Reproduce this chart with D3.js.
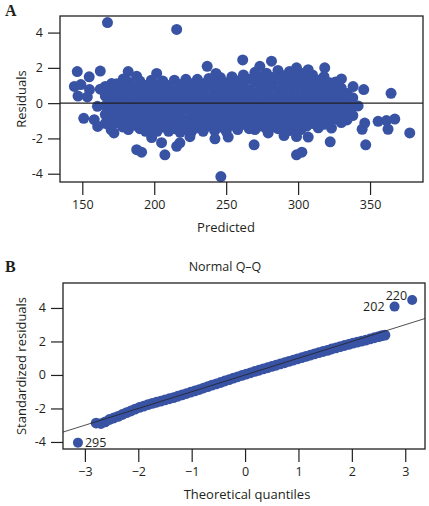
<!DOCTYPE html>
<html><head><meta charset="utf-8">
<script src="https://cdn.jsdelivr.net/npm/d3@7"></script>
<style>
html,body{margin:0;padding:0;background:#fff;}
svg{display:block;font-family:"Open Sans",sans-serif;}
</style></head>
<body>
<svg id="chart" width="429" height="506"></svg>
<script>
// ---------- Panel A data: residuals vs predicted ----------
// Dense core, read column by column: predicted value and the residuals in that column
const columnPredicted = [166,170,174,178,182,186,190,194,198,202,206,210,214,218,222,226,230,234,238,242,246,250,254,258,262,266,270,274,278,282,286,290,294,298,302,306,310,314,318,322,326,330,334,338];
const columnResiduals = [
  [0.95,0.4,-0.15,-0.65,-1.15],
  [0.7,0.15,-0.4,-0.95,-1.5],
  [1.1,0.55,0.0,-0.55,-1.1],
  [0.85,0.3,-0.25,-0.8,-1.35],
  [1.2,0.65,0.1,-0.45,-1.0,-1.5],
  [0.95,0.4,-0.15,-0.7,-1.25],
  [1.25,0.7,0.2,-0.35,-0.9,-1.45],
  [1.0,0.45,-0.1,-0.6,-1.15,-1.6],
  [1.3,0.75,0.2,-0.35,-0.9,-1.4],
  [1.05,0.5,-0.05,-0.6,-1.15,-1.6],
  [1.25,0.75,0.2,-0.35,-0.85,-1.35],
  [1.0,0.45,-0.1,-0.55,-1.1,-1.6],
  [1.3,0.7,0.15,-0.4,-0.95,-1.45],
  [1.05,0.5,-0.05,-0.65,-1.2,-1.65],
  [1.35,0.8,0.2,-0.35,-0.95,-1.45],
  [1.1,0.5,-0.05,-0.6,-1.15,-1.6],
  [1.35,0.8,0.25,-0.3,-0.85,-1.4],
  [1.1,0.55,0.0,-0.55,-1.1,-1.6],
  [1.4,0.9,0.3,-0.25,-0.8,-1.3],
  [1.2,0.6,0.05,-0.5,-1.05,-1.55],
  [1.45,0.85,0.3,-0.25,-0.8,-1.35],
  [1.15,0.55,0.0,-0.5,-1.05,-1.6],
  [1.5,0.95,0.4,-0.15,-0.7,-1.25],
  [1.25,0.7,0.15,-0.4,-0.95,-1.5],
  [1.6,1.0,0.45,-0.1,-0.65,-1.2],
  [1.35,0.75,0.2,-0.35,-0.9,-1.45],
  [1.75,1.2,0.6,0.05,-0.5,-1.05,-1.5],
  [1.5,0.95,0.35,-0.2,-0.75,-1.3],
  [1.7,1.15,0.6,0.05,-0.5,-1.05,-1.45],
  [1.45,0.9,0.3,-0.25,-0.8,-1.35],
  [1.85,1.3,0.7,0.15,-0.4,-0.95,-1.45],
  [1.55,1.0,0.4,-0.15,-0.7,-1.25],
  [1.8,1.2,0.6,0.05,-0.5,-1.05,-1.55],
  [1.45,0.9,0.3,-0.25,-0.8,-1.35],
  [1.7,1.15,0.55,0.0,-0.55,-1.1,-1.5],
  [1.4,0.85,0.3,-0.25,-0.8,-1.3],
  [1.6,1.05,0.5,-0.05,-0.6,-1.15],
  [1.3,0.75,0.2,-0.35,-0.9,-1.4],
  [1.5,0.95,0.4,-0.15,-0.7,-1.2],
  [1.15,0.6,0.05,-0.45,-1.0],
  [1.2,0.7,0.15,-0.4,-0.9],
  [0.85,0.35,-0.2,-0.7,-1.1],
  [0.55,0.05,-0.45,-0.95],
  [0.3,-0.2,-0.7]
];
// Scattered individual points around the core
const scatterPredicted = [146.5,154.8,162.5,144.5,149,147,155,153.5,162.5,170.4,181.9,201.7,151,158.3,160.7,172,170.4,160.5,187.8,191.2,198.2,205.1,207.4,215.6,224.8,242.2,251.4,217.8,236.8,242.9,261.5,281.5,273.4,298.9,307,318.5,269.4,298.9,302.6,279.2,290.2,298.9,307,322.3,347,323.2,330.1,338.2,345.6,364.6,341.7,331.3,346.3,355.6,361.4,367.2,362.5,344.5,377.6,167.5,215.6,246.3,178.5,187.8];
const scatterResiduals = [1.79,1.49,1.82,0.95,1.05,0.4,0.77,0.35,0.79,1.11,1.79,1.68,-0.86,-0.94,-1.32,-1.69,-1.03,-0.18,-2.64,-2.78,-1.95,-2.24,-2.93,-2.45,-1.9,-2.02,-1.92,-2.25,2.09,1.68,2.45,2.38,2.09,2.0,1.9,2.0,-2.36,-2.93,-2.78,-1.69,-1.84,-1.89,-1.92,-2.19,-2.36,-1.41,1.37,0.94,0.77,0.56,-0.16,-0.94,-1.13,-1.03,-0.99,-0.9,-1.48,-1.48,-1.69,4.57,4.18,-4.16,1.37,1.52];
const aXTicks = [150,200,250,300,350];
const aYTicks = [-4,-2,0,2,4];

// ---------- Panel B data: normal Q-Q ----------
const theoreticalQ = [-2.79,-2.70,-2.62,-2.54,-2.46,-2.38,-2.30,-2.22,-2.14,-2.06,-1.98,-1.90,-1.82,-1.74,-1.66,-1.58,-1.50,-1.42,-1.34,-1.26,-1.18,-1.10,-1.02,-0.94,-0.86,-0.78,-0.70,-0.62,-0.54,-0.46,-0.38,-0.30,-0.22,-0.14,-0.06,0.02,0.10,0.18,0.26,0.34,0.42,0.50,0.58,0.66,0.74,0.82,0.90,0.98,1.06,1.14,1.22,1.30,1.38,1.46,1.54,1.62,1.70,1.78,1.86,1.94,2.02,2.10,2.18,2.26,2.34,2.42,2.50,2.56,2.62];
const standardizedRes = [-2.87,-2.90,-2.80,-2.66,-2.57,-2.47,-2.36,-2.25,-2.15,-2.04,-1.94,-1.86,-1.77,-1.70,-1.63,-1.56,-1.49,-1.42,-1.35,-1.27,-1.19,-1.11,-1.03,-0.95,-0.87,-0.78,-0.70,-0.61,-0.53,-0.45,-0.36,-0.28,-0.19,-0.11,-0.03,0.05,0.13,0.21,0.28,0.36,0.43,0.51,0.58,0.66,0.73,0.81,0.88,0.96,1.03,1.11,1.18,1.26,1.33,1.40,1.47,1.55,1.62,1.69,1.76,1.83,1.90,1.96,2.02,2.08,2.15,2.22,2.29,2.34,2.38];
const outlierQ = [-3.13,2.80,3.13];
const outlierRes = [-4.04,4.08,4.48];
const outlierIds = ["295","202","220"];
const bXTicks = [-3,-2,-1,0,1,2,3];
const bYTicks = [-4,-2,0,2,4];

// ---------- drawing ----------
const COLOR = "#3953a4";
const INK = "#231f20";
const svg = d3.select("#chart");

function drawPanel(cfg){
  const g = svg.append("g");
  const x = d3.scaleLinear().domain(cfg.xDomain).range([cfg.left, cfg.right]);
  const y = d3.scaleLinear().domain(cfg.yDomain).range([cfg.bottom, cfg.top]);
  const xa = g.append("g").attr("transform",`translate(0,${cfg.bottom})`)
    .call(d3.axisBottom(x).tickValues(cfg.xTicks).tickSize(13).tickPadding(5).tickFormat(cfg.xFmt));
  const ya = g.append("g").attr("transform",`translate(${cfg.left},0)`)
    .call(d3.axisLeft(y).tickValues(cfg.yTicks).tickSize(12).tickPadding(5).tickFormat(cfg.yFmt));
  [xa,ya].forEach(a=>{
    a.select(".domain").remove();
    a.selectAll("line").attr("stroke",INK).attr("stroke-width",1.2);
    a.selectAll("text").attr("fill",INK).style("font-size","12.5px").style("font-family",'"Open Sans",sans-serif');
  });
  return {g,x,y};
}

// Panel A
const A = drawPanel({left:60,right:423,top:16,bottom:182,
  xDomain:[134.5,386.8], yDomain:[-4.47,4.94],
  xTicks:aXTicks, yTicks:aYTicks, xFmt:d=>String(d), yFmt:d=>String(d)});
const aPts = [];
columnPredicted.forEach((p,i)=>columnResiduals[i].forEach(r=>aPts.push([p,r])));
scatterPredicted.forEach((p,i)=>aPts.push([p,scatterResiduals[i]]));
A.g.append("g").selectAll("circle").data(aPts).join("circle")
  .attr("cx",d=>A.x(d[0])).attr("cy",d=>A.y(d[1])).attr("r",5.5).attr("fill",COLOR);
A.g.append("line").attr("x1",A.x.range()[0]).attr("x2",A.x.range()[1])
  .attr("y1",A.y(0)).attr("y2",A.y(0)).attr("stroke",INK).attr("stroke-width",1.1);
A.g.append("rect").attr("x",60).attr("y",16).attr("width",363).attr("height",166)
  .attr("fill","none").attr("stroke",INK).attr("stroke-width",1.3);
A.g.append("text").attr("x",5).attr("y",16).text("A")
  .style("font-family",'"Liberation Serif",serif').style("font-weight","bold").style("font-size","16px").attr("fill",INK);
A.g.append("text").attr("x",226).attr("y",232).attr("text-anchor","middle").text("Predicted")
  .style("font-size","13px").attr("fill",INK);
A.g.append("text").attr("transform","translate(26,99) rotate(-90)").attr("text-anchor","middle").text("Residuals")
  .style("font-size","13px").attr("fill",INK);

// Panel B
const B = drawPanel({left:63,right:425,top:283,bottom:449,
  xDomain:[-3.41,3.37], yDomain:[-4.42,5.49],
  xTicks:bXTicks, yTicks:bYTicks, xFmt:d=>d<0?"\u2212"+Math.abs(d):String(d), yFmt:d=>String(d)});
const bPts = theoreticalQ.map((q,i)=>[q,standardizedRes[i]]);
B.g.append("g").selectAll("circle").data(bPts).join("circle")
  .attr("cx",d=>B.x(d[0])).attr("cy",d=>B.y(d[1])).attr("r",5.4).attr("fill",COLOR);
const oPts = outlierQ.map((q,i)=>[q,outlierRes[i],outlierIds[i]]);
B.g.append("g").selectAll("circle").data(oPts).join("circle")
  .attr("cx",d=>B.x(d[0])).attr("cy",d=>B.y(d[1])).attr("r",5).attr("fill",COLOR);
// reference line y = x, clipped to plot
B.g.append("clipPath").attr("id","clipB").append("rect").attr("x",63).attr("y",283).attr("width",362).attr("height",166);
const xd = B.x.domain();
B.g.append("line").attr("clip-path","url(#clipB)")
  .attr("x1",B.x(xd[0])).attr("y1",B.y(xd[0])).attr("x2",B.x(xd[1])).attr("y2",B.y(xd[1]))
  .attr("stroke","#222").attr("stroke-width",0.8);
// outlier labels
const lab = B.g.append("g").style("font-size","12.5px").attr("fill",INK);
lab.append("text").attr("x",B.x(outlierQ[0])+7).attr("y",B.y(outlierRes[0])+4.5).text(outlierIds[0]);
lab.append("text").attr("x",B.x(outlierQ[1])-10).attr("y",B.y(outlierRes[1])+4.5).attr("text-anchor","end").text(outlierIds[1]);
lab.append("text").attr("x",B.x(outlierQ[2])-5).attr("y",B.y(outlierRes[2])).attr("text-anchor","end").text(outlierIds[2]);
B.g.append("rect").attr("x",63).attr("y",283).attr("width",362).attr("height",166)
  .attr("fill","none").attr("stroke",INK).attr("stroke-width",1.3);
B.g.append("text").attr("x",5).attr("y",272).text("B")
  .style("font-family",'"Liberation Serif",serif').style("font-weight","bold").style("font-size","16px").attr("fill",INK);
B.g.append("text").attr("x",225).attr("y",271).attr("text-anchor","middle").text("Normal Q\u2013Q")
  .style("font-size","12.5px").attr("fill",INK);
B.g.append("text").attr("x",247).attr("y",499).attr("text-anchor","middle").text("Theoretical quantiles")
  .style("font-size","13px").attr("fill",INK);
B.g.append("text").attr("transform","translate(26,366) rotate(-90)").attr("text-anchor","middle").text("Standardized residuals")
  .style("font-size","13px").attr("fill",INK);
</script>
</body></html>
